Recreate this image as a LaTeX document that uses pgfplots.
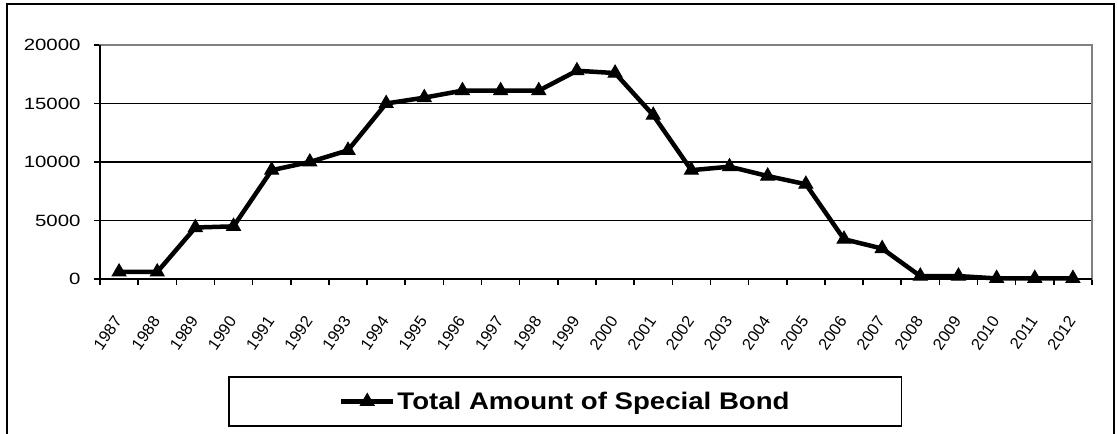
\documentclass[border=0pt]{standalone}
\usepackage{fontspec}
\setmainfont{Liberation Sans}
\usepackage{pgfplots}
\pgfplotsset{compat=1.18}
\newcommand\sx[1]{\scalebox{1.25}[1]{#1}}
\newcommand\tf{\fontsize{16.3bp}{19bp}\selectfont}
\begin{document}
\begin{tikzpicture}
\useasboundingbox (0bp,0bp) rectangle (1118bp,434bp);
\draw[line width=1.5bp] (7bp,-2bp) -- (7bp,430bp) -- (1114bp,430bp) -- (1114bp,-2bp);
\begin{axis}[
  at={(100bp,155bp)}, anchor=south west,
  width=992bp, height=234bp, scale only axis,
  clip=false,
  xmin=-0.5, xmax=25.5, ymin=0, ymax=20000,
  scaled y ticks=false,
  ytick={0,5000,10000,15000,20000},
  yticklabels={{\tf\sx{0}},{\tf\sx{5000}},{\tf\sx{10000}},{\tf\sx{15000}},{\tf\sx{20000}}},
  yticklabel style={xshift=-10bp},
  xtick={0,1,...,25},
  xticklabels={{\tf 1987},{\tf 1988},{\tf 1989},{\tf 1990},{\tf 1991},{\tf 1992},{\tf 1993},{\tf 1994},{\tf 1995},{\tf 1996},{\tf 1997},{\tf 1998},{\tf 1999},{\tf 2000},{\tf 2001},{\tf 2002},{\tf 2003},{\tf 2004},{\tf 2005},{\tf 2006},{\tf 2007},{\tf 2008},{\tf 2009},{\tf 2010},{\tf 2011},{\tf 2012}},
  xticklabel style={yshift=-33bp, xshift=-1bp, rotate=55, anchor=east, inner sep=0pt},
  minor xtick={-0.5,0.5,...,25.5},
  major x tick style={draw=none},
  minor x tick style={black, line width=1.5bp},
  minor tick length=6bp,
  tick align=outside, xtick pos=bottom, ytick pos=left,
  major tick length=6bp,
  ytick style={black, line width=1.5bp},
  ymajorgrids, major grid style={black, line width=1.8bp},
  axis line style={draw=gray, line width=2bp},
  legend style={at={(0.469,-0.5235)}, anchor=center, draw=black, line width=1.5bp,
    inner xsep=110bp, inner ysep=13bp,
    font=\fontsize{24bp}{28bp}\selectfont\bfseries},
  legend image code/.code={\draw[#1, mark repeat=2, mark phase=2] plot coordinates {(0bp,0bp) (26bp,0bp) (52bp,0bp)};},
  after end axis/.code={
    \draw[black, line width=2bp] (rel axis cs:0,1) -- (rel axis cs:0,0) -- (rel axis cs:1,0);
  },
]
\addplot[black, line width=4.5bp, mark=triangle*, mark size=8bp, mark options={solid, line width=1bp}] coordinates {
(0,600) (1,600) (2,4400) (3,4500) (4,9300) (5,10000) (6,11000) (7,15000)
(8,15500) (9,16100) (10,16100) (11,16100) (12,17800) (13,17600) (14,14000)
(15,9300) (16,9600) (17,8800) (18,8100) (19,3400) (20,2600) (21,250)
(22,250) (23,50) (24,50) (25,50)};
\addlegendentry{\scalebox{1.15}[1]{Total Amount of Special Bond}}
\end{axis}
\end{tikzpicture}
\end{document}
